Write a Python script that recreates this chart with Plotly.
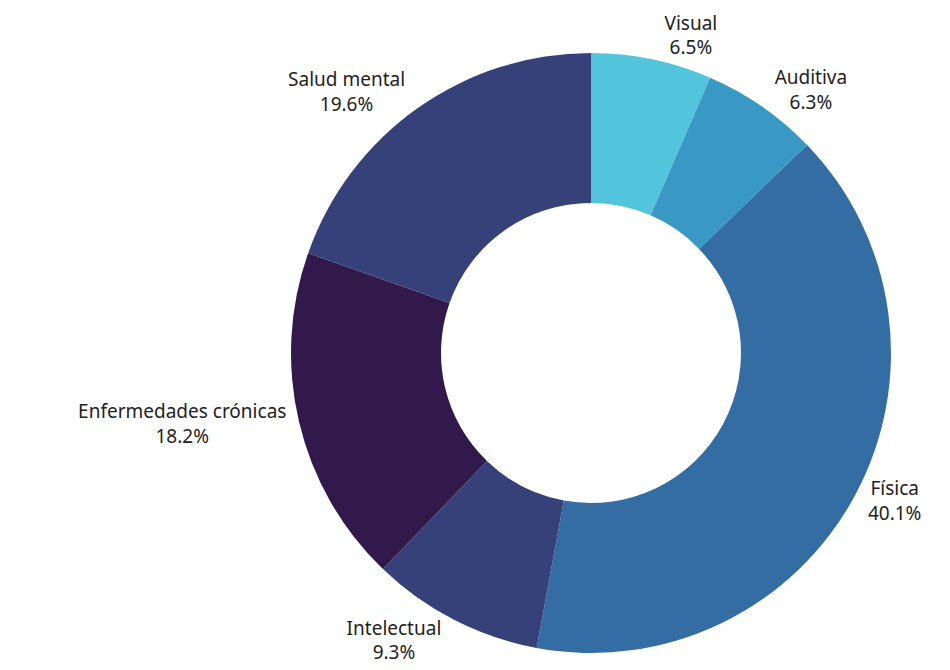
import plotly.graph_objects as go

labels = ["Visual", "Auditiva", "Física", "Intelectual", "Enfermedades crónicas", "Salud mental"]
values = [6.5, 6.3, 40.1, 9.3, 18.2, 19.6]
colors = ["#52C5DD", "#3A98C4", "#346DA4", "#36417A", "#311A4B", "#36417A"]

W, H = 950, 670
cx, cy, r = 583, 345, 300
fig = go.Figure(go.Pie(
    labels=labels, values=values, hole=0.5, sort=False, direction="clockwise",
    rotation=0, marker=dict(colors=colors, line=dict(width=0)),
    textposition="outside", texttemplate="%{label}<br>%{value:.1f}%",
    textfont=dict(size=19, color="#222222", family="Noto Sans"),
    automargin=False, showlegend=False,
    domain=dict(x=[(cx - r) / W, (cx + r) / W], y=[(H - cy - r) / H, (H - cy + r) / H]),
))
fig.update_layout(width=W, height=H, margin=dict(l=0, r=0, t=0, b=0),
                  paper_bgcolor="white", plot_bgcolor="white")
fig.write_html("out.html")
